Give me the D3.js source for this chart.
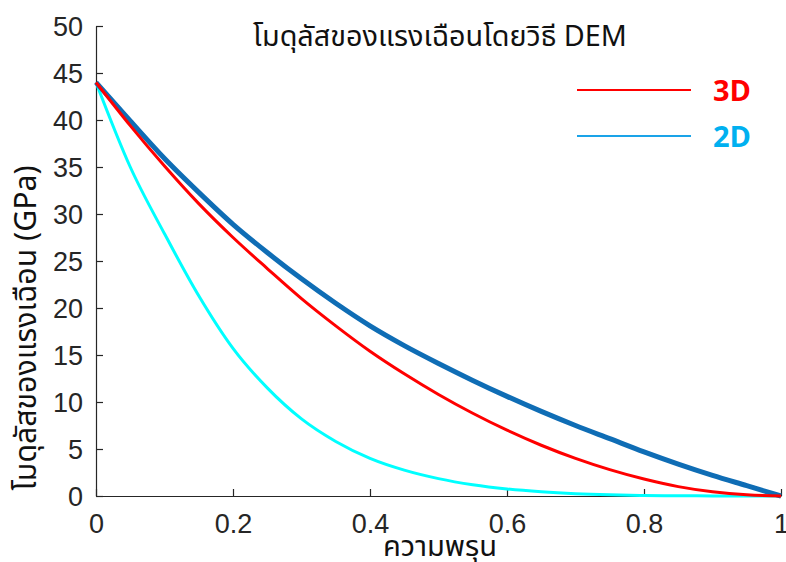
<!DOCTYPE html>
<html>
<head>
<meta charset="utf-8">
<script src="https://cdn.jsdelivr.net/npm/d3@7"></script>
<style>
  body { margin: 0; background: #fff; }
  .tick-label { font-family: "Liberation Sans", Arial, sans-serif; font-size: 27px; fill: #262626; }
  .thai { font-family: "Noto Sans Thai", "Noto Sans", "DejaVu Sans", sans-serif; fill: #111; }
  .legend-text { font-family: "Open Sans", "Noto Sans", sans-serif; font-weight: bold; font-size: 29px; }
</style>
</head>
<body>
<svg id="chart" width="786" height="562"></svg>
<script>
// Porosity values on the x axis
var porosity = [0, 0.05, 0.1, 0.15, 0.2, 0.25, 0.3, 0.35, 0.4, 0.45, 0.5,
  0.55, 0.6, 0.65, 0.7, 0.75, 0.8, 0.85, 0.9, 0.95, 1];

// Shear modulus (GPa)
var blueValues = [44, 39.9, 35.9, 32.3, 28.9, 25.9, 23.1, 20.5, 18.1, 16.0, 14.1,
  12.3, 10.6, 9.0, 7.5, 6.1, 4.7, 3.4, 2.2, 1.1, 0];
var redValues = [44, 39.4, 35.1, 31.1, 27.5, 24.2, 21.0, 18.1, 15.4, 13.0, 10.8,
  8.8, 7.0, 5.4, 4.0, 2.8, 1.8, 1.0, 0.45, 0.12, 0];
var cyanValues = [44, 35.0, 27.9, 21.3, 15.7, 11.5, 8.2, 5.8, 4.0, 2.75, 1.85,
  1.2, 0.75, 0.45, 0.25, 0.13, 0.06, 0.03, 0.01, 0, 0];

var xTicks = [0, 0.2, 0.4, 0.6, 0.8, 1];
var yTicks = [0, 5, 10, 15, 20, 25, 30, 35, 40, 45, 50];
var legendLabels = ["3D", "2D"];

var svg = d3.select("#chart");
var margin = {top: 26, right: 5, bottom: 66, left: 96};
var width = 786 - margin.left - margin.right;
var height = 562 - margin.top - margin.bottom;

var x = d3.scaleLinear().domain([0, 1]).range([margin.left, margin.left + width]);
var y = d3.scaleLinear().domain([0, 50]).range([margin.top + height, margin.top]);

// Axes, ticks pointing inward like the original plot
var xAxis = svg.append("g")
  .attr("transform", "translate(0," + (margin.top + height) + ")")
  .call(d3.axisBottom(x).tickValues(xTicks).tickSizeInner(-7).tickSizeOuter(0)
    .tickPadding(18).tickFormat(function(d) { return d; }));

var yAxis = svg.append("g")
  .attr("transform", "translate(" + margin.left + ",0)")
  .call(d3.axisLeft(y).tickValues(yTicks).tickSizeInner(-7).tickSizeOuter(0)
    .tickPadding(13));

[xAxis, yAxis].forEach(function(ax) {
  ax.select(".domain").attr("stroke", "#262626").attr("stroke-width", 1.2);
  ax.selectAll(".tick line").attr("stroke", "#262626").attr("stroke-width", 1.2);
  ax.selectAll(".tick text").attr("class", "tick-label").attr("font-size", null)
    .attr("font-family", null).attr("fill", null);
});
xAxis.selectAll(".tick text").attr("dy", "0.71em");
yAxis.selectAll(".tick text").attr("dy", "0.36em");

// Curves: cyan below, then blue, red on top
var line = d3.line()
  .x(function(d) { return x(d[0]); })
  .y(function(d) { return y(d[1]); })
  .curve(d3.curveMonotoneX);

function drawCurve(values, color, w) {
  svg.append("path")
    .datum(d3.zip(porosity, values))
    .attr("fill", "none")
    .attr("stroke", color)
    .attr("stroke-width", w)
    .attr("stroke-linejoin", "round")
    .attr("d", line);
}
drawCurve(cyanValues, "#00ffff", 3);
drawCurve(blueValues, "#0f6db5", 5);
drawCurve(redValues, "#ff0000", 3);

// Fit Thai text to the width seen in the reference
function fitText(sel, target) {
  var len = sel.node().getComputedTextLength();
  var size = parseFloat(sel.attr("font-size"));
  sel.attr("font-size", size * target / len);
}

var title = svg.append("text")
  .attr("class", "thai")
  .attr("x", 440).attr("y", 46)
  .attr("text-anchor", "middle")
  .attr("font-size", 21)
  .text("โมดุลัสของแรงเฉือนโดยวิธี DEM");
fitText(title, 374);

var xLabel = svg.append("text")
  .attr("class", "thai")
  .attr("x", 440).attr("y", 556)
  .attr("text-anchor", "middle")
  .attr("font-size", 22)
  .text("ความพรุน");
fitText(xLabel, 114);

var yLabel = svg.append("text")
  .attr("class", "thai")
  .attr("transform", "translate(36,328) rotate(-90)")
  .attr("text-anchor", "middle")
  .attr("font-size", 22)
  .text("โมดุลัสของแรงเฉือน (GPa)");
fitText(yLabel, 325);

// Legend
var legendColors = ["#ff0000", "#1aa3e8"];
var textColors = ["#ff0000", "#00b0f0"];
var legend = svg.selectAll(".legend")
  .data(legendLabels)
  .enter().append("g")
  .attr("class", "legend")
  .attr("transform", function(d, i) { return "translate(0," + (90 + i * 46) + ")"; });

legend.append("line")
  .attr("x1", 577).attr("x2", 691)
  .attr("stroke", function(d, i) { return legendColors[i]; })
  .attr("stroke-width", 1.8);

legend.append("text")
  .attr("class", "legend-text")
  .attr("x", 713).attr("y", 11)
  .attr("fill", function(d, i) { return textColors[i]; })
  .text(function(d) { return d; });
</script>
</body>
</html>
